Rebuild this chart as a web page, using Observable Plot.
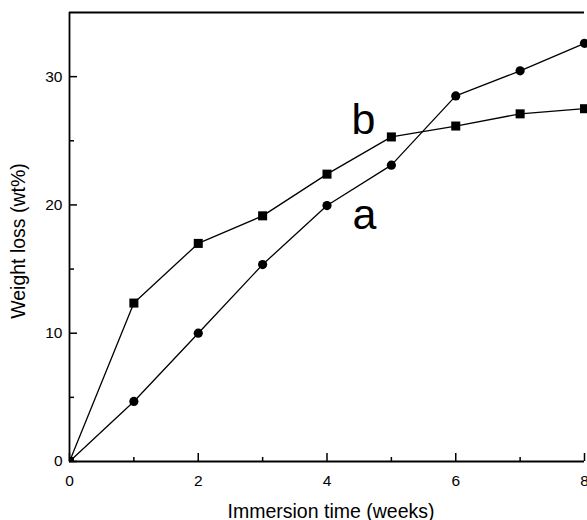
<!DOCTYPE html>
<html><head><meta charset="utf-8">
<script src="https://cdn.jsdelivr.net/npm/d3@7"></script>
<script src="https://cdn.jsdelivr.net/npm/@observablehq/plot@0.6"></script>
<style>body{margin:0;background:#fff;}</style>
</head><body><div id="chart"></div>
<script>
const weeks = [0, 1, 2, 3, 4, 5, 6, 7, 8];
const lossA = [0, 4.68, 10.0, 15.35, 19.95, 23.1, 28.5, 30.45, 32.6];
const lossB = [0, 12.35, 17.0, 19.15, 22.4, 25.3, 26.15, 27.1, 27.5];
const seriesNames = ["a", "b"];
const xTicks = [0, 2, 4, 6, 8];
const xMinorTicks = [1, 3, 5, 7];
const yTicks = [0, 10, 20, 30];
const yMinorTicks = [5, 15, 25];
const xLabel = "Immersion time (weeks)";
const yLabel = "Weight loss (wt%)";

const rows = [];
weeks.forEach((w, i) => {
  rows.push({series: seriesNames[0], week: w, loss: lossA[i]});
  rows.push({series: seriesNames[1], week: w, loss: lossB[i]});
});
const rowsA = rows.filter(d => d.series === "a");
const rowsB = rows.filter(d => d.series === "b");

const W = 587, H = 520, mL = 69, mR = 3, mT = 12, mB = 59;
const pw = W - mL - mR, ph = H - mT - mB;
const axisW = 1.8;

const chart = Plot.plot({
  width: W, height: H,
  marginLeft: mL, marginRight: mR, marginTop: mT, marginBottom: mB,
  style: {fontFamily: "'Liberation Sans', Arial, sans-serif", color: "#000", background: "#fff", overflow: "visible"},
  x: {domain: [0, 8]},
  y: {domain: [0, 35]},
  marks: [
    Plot.axisX({ticks: xTicks, tickSize: 0, tickPadding: 13, fontSize: 15.5, label: null, tickFormat: d => d}),
    Plot.axisY({ticks: yTicks, tickSize: 0, tickPadding: 7, fontSize: 15.5, label: null, tickFormat: d => d}),
    Plot.text([xLabel], {frameAnchor: "bottom", dx: 4, dy: 56, textAnchor: "middle", lineAnchor: "bottom", fontSize: 19.5, fill: "#000"}),
    Plot.text([yLabel], {frameAnchor: "left", dx: -51, dy: 4, textAnchor: "middle", rotate: -90, fontSize: 19.5, fill: "#000"}),
    Plot.tickX(xTicks, {x: d => d, insetTop: ph - 8, stroke: "#000", strokeWidth: 1.5}),
    Plot.tickX(xMinorTicks, {x: d => d, insetTop: ph - 4, stroke: "#000", strokeWidth: 1.5}),
    Plot.tickY(yTicks, {y: d => d, insetRight: pw - 8, stroke: "#000", strokeWidth: 1.5}),
    Plot.tickY(yMinorTicks, {y: d => d, insetRight: pw - 5, stroke: "#000", strokeWidth: 1.5}),
    Plot.ruleY([0], {stroke: "#000", strokeWidth: axisW}),
    Plot.ruleY([35], {stroke: "#000", strokeWidth: axisW}),
    Plot.ruleX([0], {stroke: "#000", strokeWidth: axisW}),
    Plot.line(rows, {x: "week", y: "loss", z: "series", stroke: "#000", strokeWidth: 1.3}),
    Plot.dot(rowsA.filter(d => d.week > 0), {x: "week", y: "loss", r: 4.6, fill: "#000", symbol: "circle"}),
    Plot.dot(rowsB.filter(d => d.week > 0), {x: "week", y: "loss", r: 5.1, fill: "#000", symbol: "square"}),
    Plot.dot(rows.filter(d => d.week === 0), {x: "week", y: "loss", r: 5.1, fill: "#000", symbol: "square", clip: true}),
    Plot.text(rowsB.filter(d => d.week === 5), {x: "week", y: "loss", text: "series", dx: -28, dy: -3, lineAnchor: "bottom", fontSize: 43, fill: "#000"}),
    Plot.text(rowsA.filter(d => d.week === 5), {x: "week", y: "loss", text: "series", dx: -27, dy: 64, lineAnchor: "bottom", fontSize: 43, fill: "#000"})
  ]
});
document.getElementById("chart").appendChild(chart);
</script>
</body></html>
